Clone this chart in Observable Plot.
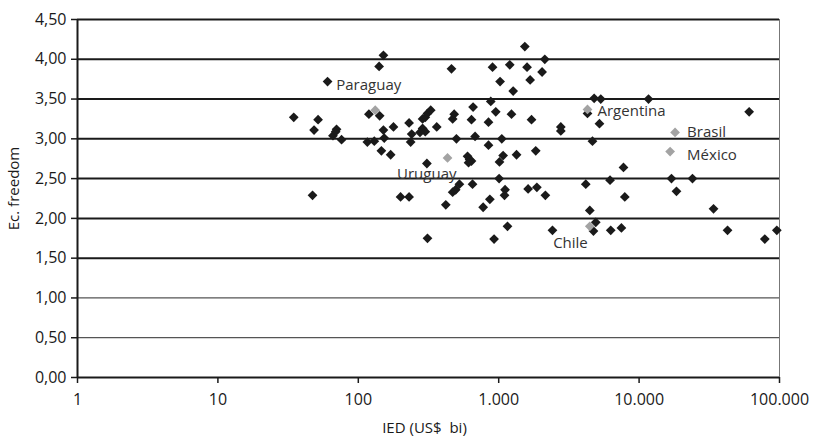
<!DOCTYPE html>
<html>
<head>
<meta charset="utf-8">
<script src="https://cdn.jsdelivr.net/npm/d3@7"></script>
<script src="https://cdn.jsdelivr.net/npm/@observablehq/plot@0.6"></script>
<style>
  html, body { margin: 0; padding: 0; background: #fff; }
  #chart svg { display: block; }
</style>
</head>
<body>
<div id="chart"></div>
<script>
// ---- data ----
const otherIED = [34.7, 48.4, 51.7, 47.2, 60.4, 70, 66, 76, 69, 140.7, 151, 119, 142, 151, 178, 116, 130, 153, 146, 170,
  200, 230, 230, 240, 236, 287, 300, 311, 328, 287, 300, 275, 362, 308, 311, 420, 470, 494, 525, 651,
  461, 470, 482, 657, 640, 500, 679, 600, 620, 640, 610, 775, 865, 878, 953, 846, 846, 904, 1023, 1199,
  1268, 1233, 1052, 1075, 1013, 1007, 1340, 1836, 1713, 1110, 1100, 1620, 1870, 2150, 927, 1155, 1535, 2130, 1592, 2037,
  1675, 2770, 2770, 2415, 4786, 5335, 4290, 5220, 4654, 4170, 4455, 4914, 4730, 6280, 7480, 6210, 7740, 7910, 11670, 17000,
  24000, 18460, 33900, 42640, 60800, 78600, 95700];
const otherFreedom = [3.27, 3.11, 3.24, 2.29, 3.72, 3.12, 3.04, 2.99, 3.09, 3.91, 4.05, 3.31, 3.29, 3.11, 3.15, 2.96, 2.97, 3.01, 2.85, 2.80,
  2.27, 2.27, 3.20, 3.06, 2.96, 3.25, 3.27, 3.32, 3.36, 3.13, 3.09, 3.08, 3.15, 2.69, 1.75, 2.17, 2.33, 2.36, 2.43, 2.43,
  3.88, 3.25, 3.31, 3.40, 3.24, 3.00, 3.03, 2.78, 2.74, 2.72, 2.70, 2.14, 2.24, 3.47, 3.34, 3.21, 2.92, 3.90, 3.72, 3.93,
  3.60, 3.31, 3.00, 2.79, 2.71, 2.50, 2.80, 2.85, 3.24, 2.36, 2.29, 2.37, 2.39, 2.29, 1.74, 1.90, 4.16, 4.00, 3.90, 3.84,
  3.74, 3.15, 3.10, 1.85, 3.51, 3.50, 3.32, 3.19, 2.97, 2.43, 2.10, 1.95, 1.84, 1.85, 1.88, 2.48, 2.64, 2.27, 3.50, 2.50,
  2.50, 2.34, 2.12, 1.85, 3.34, 1.74, 1.85];

const latamNames = ["Paraguay", "Argentina", "Brasil", "México", "Uruguay", "Chile"];
const latamIED = [132, 4290, 18040, 16630, 432, 4455];
const latamFreedom = [3.36, 3.37, 3.08, 2.84, 2.76, 1.90];

const xTicks = [1, 10, 100, 1000, 10000, 100000];
const xTickLabels = ["1", "10", "100", "1.000", "10.000", "100.000"];
const yTicks = [0, 0.5, 1, 1.5, 2, 2.5, 3, 3.5, 4, 4.5];
const yTickLabels = ["0,00", "0,50", "1,00", "1,50", "2,00", "2,50", "3,00", "3,50", "4,00", "4,50"];
const xTitle = "IED (US$  bi)";
const yTitle = "Ec. freedom";

// ---- build tables ----
const others = otherIED.map((v, i) => ({ied: v, fr: otherFreedom[i]}));
const latam = latamNames.map((n, i) => ({name: n, ied: latamIED[i], fr: latamFreedom[i]}));

// label placement (styling only)
const labelStyle = {
  "Paraguay": {dx: -39, dy: -25, anchor: "start"},
  "Argentina": {dx: 10, dy: 2, anchor: "start"},
  "Brasil": {dx: 12, dy: 0, anchor: "start"},
  "México": {dx: 17, dy: 4, anchor: "start"},
  "Uruguay": {dx: 9, dy: 16, anchor: "end"},
  "Chile": {dx: -2, dy: 17, anchor: "end"}
};

const thinGrid = [0.5, 1];
const thickGrid = yTicks.filter(v => !thinGrid.includes(v));

const font = "'Open Sans', 'Noto Sans', sans-serif";

const chart = Plot.plot({
  width: 818,
  height: 437,
  marginLeft: 77,
  marginRight: 39,
  marginTop: 19,
  marginBottom: 60,
  style: {fontFamily: font, fontSize: "16px", color: "#1a1a1a", background: "#fff"},
  x: {type: "log", domain: [1, 100000], ticks: xTicks, axis: null},
  y: {domain: [0, 4.5], ticks: yTicks, axis: null},
  marks: [
    Plot.ruleY(thinGrid, {stroke: "#555", strokeWidth: 1.2}),
    Plot.ruleY(thickGrid, {stroke: "#1a1a1a", strokeWidth: 2}),
    Plot.ruleX([100000], {stroke: "#777", strokeWidth: 1}),
    Plot.ruleX([1], {stroke: "#1a1a1a", strokeWidth: 2}),
    Plot.axisX(xTicks, {
      tickSize: 6, tickPadding: 10, stroke: "#1a1a1a", strokeWidth: 1.5,
      tickFormat: (d) => xTickLabels[xTicks.indexOf(d)], label: null, fill: "#1a1a1a", fontSize: 16
    }),
    Plot.axisY(yTicks, {
      tickSize: 6, tickPadding: 5, stroke: "#1a1a1a", strokeWidth: 1.5,
      tickFormat: (d) => yTickLabels[yTicks.indexOf(d)], label: null, fill: "#1a1a1a", fontSize: 16
    }),
    Plot.text([xTitle], {frameAnchor: "bottom", dx: -4, dy: 55, textAnchor: "middle", fill: "#1a1a1a", fontSize: 15}),
    Plot.text([yTitle], {frameAnchor: "left", dx: -63, dy: -10, rotate: -90, textAnchor: "middle", fill: "#1a1a1a", fontSize: 15}),
    Plot.dot(others, {x: "ied", y: "fr", symbol: "diamond2", r: 4.4, fill: "#1a1a1a", stroke: "none"}),
    Plot.dot(latam, {x: "ied", y: "fr", symbol: "diamond2", r: 4.4, fill: "#a3a3a3", stroke: "none"}),
    ...latam.map(d => Plot.text([d], {
      x: "ied", y: "fr", text: "name",
      dx: labelStyle[d.name].dx, dy: labelStyle[d.name].dy,
      textAnchor: labelStyle[d.name].anchor, fill: "#333", fontSize: 15
    }))
  ]
});

document.getElementById("chart").appendChild(chart);
</script>
</body>
</html>
